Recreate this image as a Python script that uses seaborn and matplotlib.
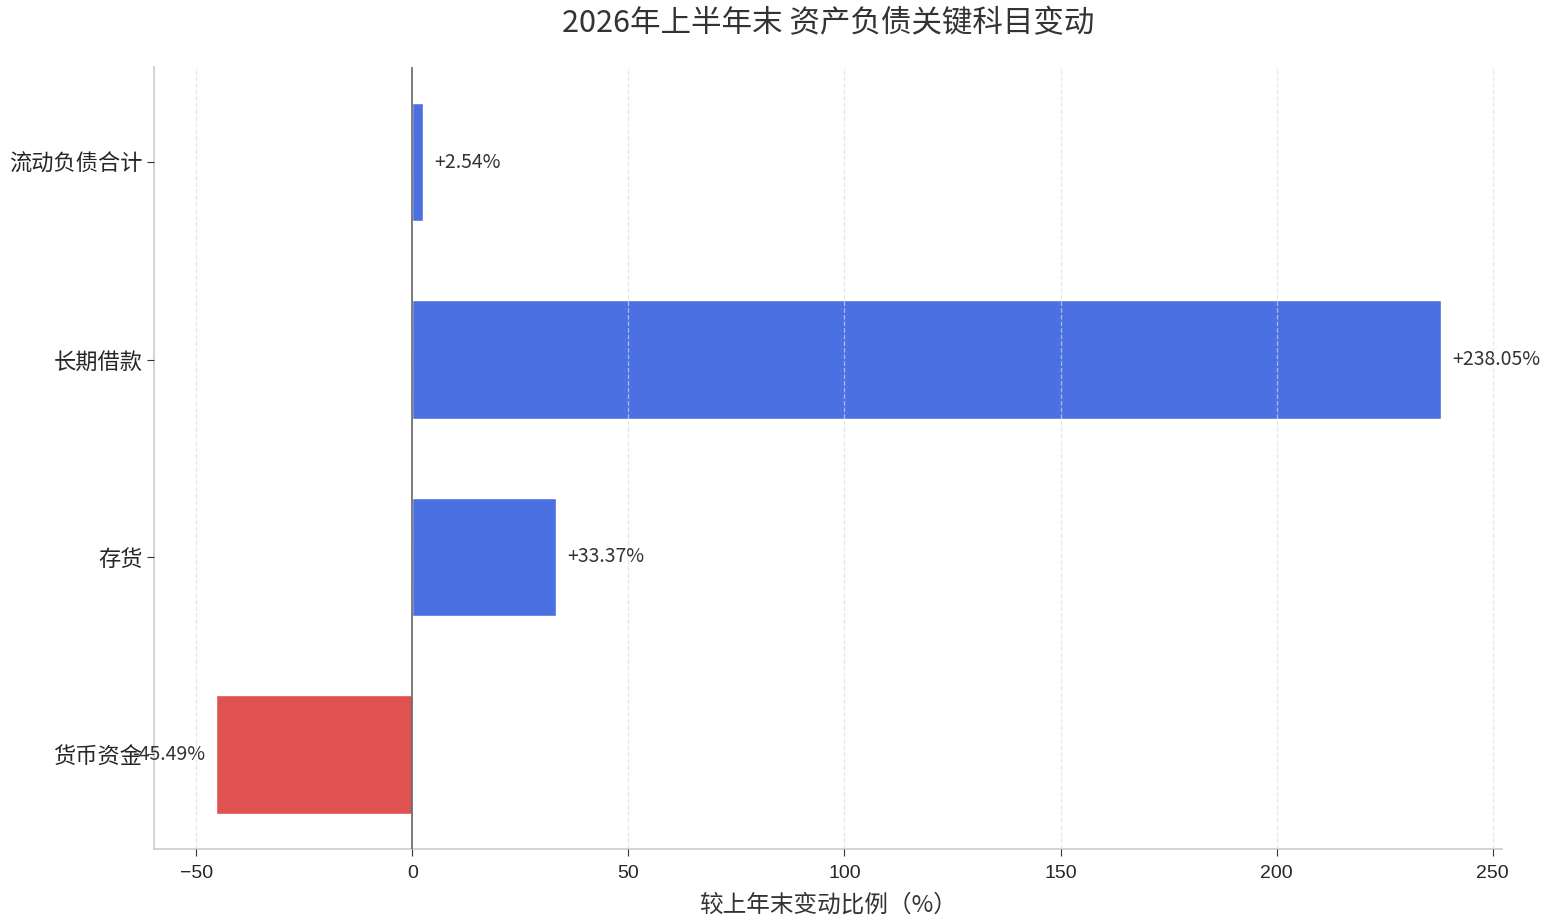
import matplotlib
matplotlib.use("Agg")
import matplotlib.pyplot as plt
import seaborn as sns
import pandas as pd

# data
items = ["流动负债合计", "长期借款", "存货", "货币资金"]
changes = [2.54, 238.05, 33.37, -45.49]

title = "2026年上半年末 资产负债关键科目变动"
xlabel = "较上年末变动比例（%）"

BLUE = "#4a70e2"
RED = "#e05252"

sns.set_style("ticks")
plt.rcParams['font.family'] = ['Noto Sans CJK SC', 'DejaVu Sans']
plt.rcParams['axes.unicode_minus'] = True

df = pd.DataFrame({"item": items, "change": changes})
colors = [BLUE if v >= 0 else RED for v in changes]

fig, ax = plt.subplots(figsize=(15.44, 9.22), dpi=100)
sns.barplot(data=df, y="item", x="change", hue="item", palette=colors,
            order=items, hue_order=items, legend=False, width=0.6,
            saturation=1, ax=ax, zorder=2)

ax.set_ylim(3.48, -0.48)
ax.axvline(0, color="#666666", linewidth=1.2, zorder=3)

# value labels next to bars
for i, v in enumerate(changes):
    if v >= 0:
        ax.text(v + 2.5, i, f"{v:+.2f}%", ha="left", va="center",
                fontsize=14, color="#333333", zorder=4)
    else:
        ax.text(v - 2.5, i, f"{v:+.2f}%", ha="right", va="center",
                fontsize=14, color="#333333", zorder=4)

ax.grid(axis="x", linestyle="--", color="#dddddd", alpha=0.7, linewidth=0.9, zorder=5)
ax.set_axisbelow(False)

ax.set_title(title, fontsize=22, color="#333333", pad=25)
ax.set_xlabel(xlabel, fontsize=17, color="#333333", labelpad=8)
ax.set_ylabel("")

for s in ["top", "right"]:
    ax.spines[s].set_visible(False)
for s in ["left", "bottom"]:
    ax.spines[s].set_color("#cccccc")
    ax.spines[s].set_linewidth(1.2)

ax.tick_params(axis="y", labelsize=16, length=5, color="#333333")
ax.tick_params(axis="x", labelsize=14, length=5, pad=6.5, color="#333333")
for lbl in ax.get_xticklabels():
    lbl.set_family("Liberation Sans")

plt.subplots_adjust(left=0.1, right=0.973, top=0.927, bottom=0.079)
fig.savefig("out.png", dpi=100)
